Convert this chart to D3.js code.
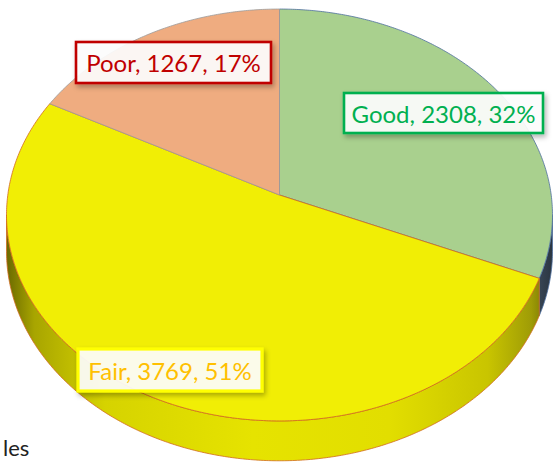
<!DOCTYPE html>
<html>
<head>
<meta charset="utf-8">
<script src="https://cdn.jsdelivr.net/npm/d3@7"></script>
<style>
  html, body { margin: 0; padding: 0; background: #ffffff; }
  svg { display: block; }
</style>
</head>
<body>
<svg id="chart" width="557" height="462"></svg>
<script>
// Data
const categories = ["Good", "Fair", "Poor"];
const values = [2308, 3769, 1267];
const percentLabels = ["32%", "51%", "17%"];

// Styling per category
const topColors = { Good: "#a9d08e", Fair: "#f1ee05", Poor: "#efac80" };
const rimColors = { Good: "#4e6f9e", Fair: "#d2691e", Poor: "#9a9a9a" };
const labelStroke = { Good: "#00b050", Fair: "#ffff00", Poor: "#c00000" };
const labelText = { Good: "#00b050", Fair: "#ffc000", Poor: "#c00000" };
const labelBoxes = {
  Poor: { x: 76, y: 42, w: 195, h: 41 },
  Good: { x: 344, y: 93, w: 199, h: 40 },
  Fair: { x: 78, y: 349, w: 184, h: 42 }
};

const svg = d3.select("#chart");
const defs = svg.append("defs");

// Perspective view of a tilted disc
const X0 = 279.5, Y0 = 195;   // projected centre of the disc
const A = 271.7, B = 204;     // horizontal / vertical radii
const k = 0.097;              // perspective strength
const H = 36;                 // thickness of the disc

function project(angle, depth) {
  const u = Math.sin(angle), v = -Math.cos(angle);
  const w = 1 - k * v;
  return [X0 + A * u / w, Y0 + (B * v + depth) / w];
}

const pie = d3.pie().sort(null).value(d => d.value);
const arcs = pie(categories.map((c, i) => ({ cat: c, value: values[i], pct: percentLabels[i] })));

const line = d3.line();
function rimPoints(a0, a1, depth) {
  const n = Math.max(2, Math.ceil(Math.abs(a1 - a0) / (Math.PI / 360)));
  return d3.range(n + 1).map(i => project(a0 + (a1 - a0) * i / n, depth));
}

// Side wall gradients
function sideGradient(id, stops) {
  const g = defs.append("linearGradient")
    .attr("id", id).attr("gradientUnits", "userSpaceOnUse")
    .attr("x1", 7).attr("x2", 553).attr("y1", 0).attr("y2", 0);
  stops.forEach(s => g.append("stop").attr("offset", s[0]).attr("stop-color", s[1]));
}
sideGradient("side-Fair", [[0, "#6c6a00"], [0.05, "#a8a500"], [0.18, "#d6d300"], [0.45, "#e6e300"], [0.7, "#e2de00"], [0.88, "#c9c500"], [0.96, "#9f9c06"], [1, "#6a6800"]]);
sideGradient("side-Good", [[0, "#2f3b45"], [0.9, "#4a5a6a"], [0.97, "#3a4858"], [1, "#2a3540"]]);

// Visible part of the wall faces the viewer
const vis0 = Math.acos(-k), vis1 = 2 * Math.PI - Math.acos(-k);
const sideG = svg.append("g");
arcs.forEach(a => {
  const s = Math.max(a.startAngle, vis0), e = Math.min(a.endAngle, vis1);
  if (e <= s) return;
  const pts = rimPoints(s, e, 0).concat(rimPoints(e, s, H));
  sideG.append("path")
    .attr("d", line(pts) + "Z")
    .attr("fill", `url(#side-${a.data.cat})`)
    .attr("stroke", rimColors[a.data.cat])
    .attr("stroke-width", 0.8)
    .attr("stroke-linejoin", "round");
});

// Top faces
const topG = svg.append("g");
arcs.forEach(a => {
  const pts = [[X0, Y0]].concat(rimPoints(a.startAngle, a.endAngle, 0));
  topG.append("path")
    .attr("d", line(pts) + "Z")
    .attr("fill", topColors[a.data.cat])
    .attr("stroke", rimColors[a.data.cat])
    .attr("stroke-width", 0.8)
    .attr("stroke-linejoin", "round");
});

// Data labels
const shadow = defs.append("filter").attr("id", "label-shadow")
  .attr("x", "-20%").attr("y", "-40%").attr("width", "140%").attr("height", "180%");
shadow.append("feDropShadow").attr("dx", 2).attr("dy", 3).attr("stdDeviation", 2.5)
  .attr("flood-color", "#000").attr("flood-opacity", 0.3);

const labelG = svg.append("g");
arcs.forEach(a => {
  const c = a.data.cat, b = labelBoxes[c];
  const g = labelG.append("g");
  g.append("rect")
    .attr("x", b.x).attr("y", b.y).attr("width", b.w).attr("height", b.h)
    .attr("fill", "#ffffff").attr("fill-opacity", 0.9)
    .attr("stroke", labelStroke[c]).attr("stroke-width", c === "Fair" ? 3.2 : 2.6)
    .attr("filter", "url(#label-shadow)");
  g.append("text")
    .attr("x", b.x + b.w / 2).attr("y", b.y + b.h * 0.74)
    .attr("text-anchor", "middle")
    .attr("font-family", "Lato, 'Open Sans', sans-serif")
    .attr("font-size", 24)
    .attr("fill", labelText[c])
    .text(`${c}, ${a.data.value}, ${a.data.pct}`);
});

// Caption text below the chart
svg.append("text")
  .attr("x", 3).attr("y", 456)
  .attr("font-family", "Lato, sans-serif")
  .attr("font-size", 22)
  .attr("fill", "#222")
  .text("les");
</script>
</body>
</html>
